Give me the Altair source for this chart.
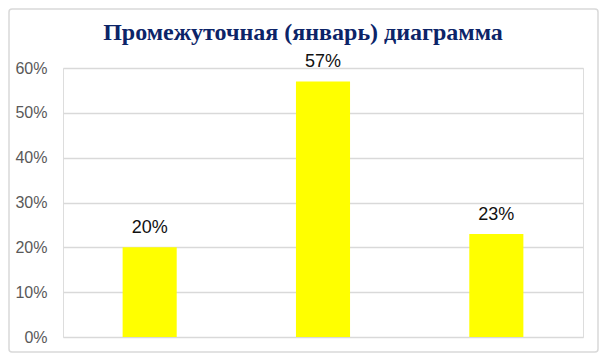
import altair as alt
import pandas as pd

categories = ["1", "2", "3"]
values = [0.20, 0.57, 0.23]
labels = ["20%", "57%", "23%"]
title_text = "Промежуточная (январь) диаграмма"

df = pd.DataFrame({"cat": categories, "value": values, "label": labels})

W, H = 520, 269

x_enc = alt.X("cat:N", sort=categories, axis=None,
              scale=alt.Scale(paddingInner=0.688, paddingOuter=0.344))
y_scale = alt.Scale(domain=[0, 0.6], nice=False)

bars = alt.Chart(df).mark_bar(color="#FFFF00").encode(
    x=x_enc,
    y=alt.Y("value:Q", scale=y_scale,
            axis=alt.Axis(format=".0%", values=[0, 0.1, 0.2, 0.3, 0.4, 0.5, 0.6],
                          title=None, domain=False, ticks=False,
                          labelPadding=16, labelFont="Liberation Sans",
                          labelFontSize=16, labelColor="#595959",
                          gridColor="#D9D9D9", gridWidth=1.3)),
)

text = alt.Chart(df).mark_text(baseline="alphabetic", dy=-14, font="Liberation Sans",
                               fontSize=18, color="#111111").encode(
    x=x_enc,
    y=alt.Y("value:Q", scale=y_scale),
    text="label:N",
)

border = alt.Chart(pd.DataFrame({"b": [0]})).mark_rect(
    fill=None, stroke="#D9D9D9", strokeWidth=1.5, cornerRadius=3
).encode(x=alt.value(-54), x2=alt.value(535), y=alt.value(-59), y2=alt.value(284))

chart = alt.layer(border, bars, text).properties(
    width=W, height=H,
    title=alt.TitleParams(title_text, font="Liberation Serif", fontSize=24,
                          fontWeight="bold", color="#0C2468", anchor="middle",
                          baseline="alphabetic", dx=-20, offset=-56),
    padding={"left": 55, "top": 60, "right": 16, "bottom": 16},
    autosize=alt.AutoSizeParams(type="none"),
).configure_view(stroke=None).configure(background="white")

chart.save("out.html", embed_options={"renderer": "svg", "actions": False})
